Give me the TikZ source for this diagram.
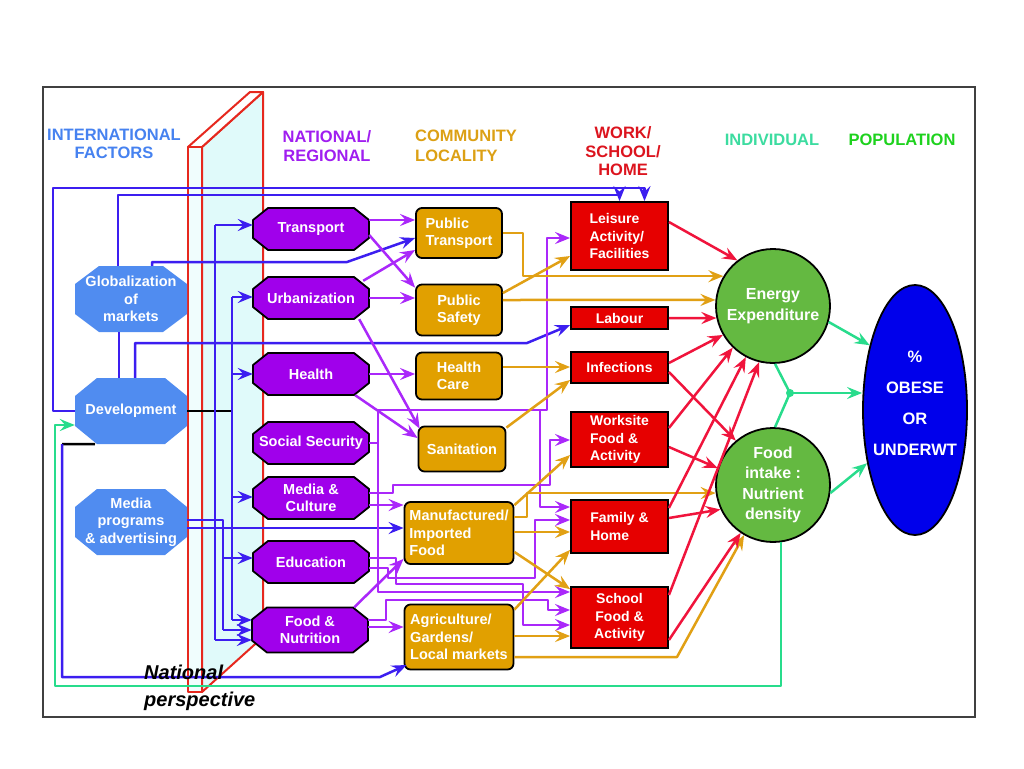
\documentclass[tikz,border=0pt]{standalone}
\usepackage{fontspec}
\setmainfont{Liberation Sans}
\usetikzlibrary{arrows.meta,shapes.geometric}

\definecolor{intlC}{RGB}{80,140,240}
\definecolor{natC}{RGB}{160,0,235}
\definecolor{comC}{RGB}{225,160,0}
\definecolor{workC}{RGB}{230,0,0}
\definecolor{indC}{RGB}{100,185,65}
\definecolor{popC}{RGB}{0,0,235}
\definecolor{blL}{RGB}{60,30,240}
\definecolor{puL}{RGB}{170,40,250}
\definecolor{orL}{RGB}{225,160,20}
\definecolor{rdL}{RGB}{240,20,60}
\definecolor{grL}{RGB}{40,220,140}
\definecolor{wallR}{RGB}{230,40,30}
\definecolor{wallC}{RGB}{224,250,250}
\definecolor{wallF}{RGB}{240,253,253}
\definecolor{hIntl}{RGB}{70,130,240}
\definecolor{hNat}{RGB}{160,30,240}
\definecolor{hCom}{RGB}{220,160,20}
\definecolor{hWork}{RGB}{220,20,30}
\definecolor{hInd}{RGB}{60,220,160}
\definecolor{hPop}{RGB}{30,210,30}

% #1 name, #2 cx, #3 cy, #4 w, #5 h, #6 chamfer x, #7 chamfer y, #8 group, #9 text
\newcommand\octbox[9]{%
  \path[#8] ({#2-#4/2+#6},{#3-#5/2}) -- ({#2+#4/2-#6},{#3-#5/2}) -- ({#2+#4/2},{#3-#5/2+#7})
    -- ({#2+#4/2},{#3+#5/2-#7}) -- ({#2+#4/2-#6},{#3+#5/2}) -- ({#2-#4/2+#6},{#3+#5/2})
    -- ({#2-#4/2},{#3+#5/2-#7}) -- ({#2-#4/2},{#3-#5/2+#7}) -- cycle;
  \node[#8 text, minimum width=#4, minimum height=#5] (#1) at (#2,#3) {#9};
}

\tikzset{
  lbl/.style={font=\fontsize{14.5}{17.5}\selectfont\bfseries, text=white, align=center, inner sep=0pt},
  intl/.style={fill=intlC},
  intl text/.style={lbl, rectangle},
  nat/.style={fill=natC, draw=black, line width=1.8pt, line join=round},
  nat text/.style={lbl, rectangle},
  comm/.style={rectangle, rounded corners=6pt, draw=black, line width=1.8pt, fill=comC, lbl},
  work/.style={rectangle, draw=black, line width=1.8pt, fill=workC, lbl, font=\fontsize{14}{17.5}\selectfont\bfseries},
  ind/.style={circle, draw=black, line width=1.8pt, fill=indC, minimum size=114pt, inner sep=0pt,
    text=white, align=center, font=\fontsize{16}{20.5}\selectfont\bfseries},
  hdr/.style={font=\fontsize{16.5}{18.5}\selectfont\bfseries, inner sep=0pt, align=center},
  arr/.style={-{Stealth[length=15pt,width=12pt,inset=5.5pt]}},
  conn/.style={line width=2.5pt, line join=round},
  cBlue/.style={conn, draw=blL},
  cPurp/.style={conn, draw=puL},
  cOr/.style={conn, draw=orL},
  cRed/.style={conn, draw=rdL},
  cGreen/.style={conn, draw=grL},
  cBlack/.style={conn, draw=black},
  wallline/.style={draw=wallR, line width=2pt, line join=round},
}

\begin{document}
\begin{tikzpicture}[x=1pt,y=-1pt]
\useasboundingbox (0,0) rectangle (1024,768);
\fill[white] (0,0) rectangle (1024,768);
\draw[black!75, line width=1.3pt] (43,87) rectangle (975,717);

% ---- wall
\path[wallline, fill=wallC] (202,147) -- (263,92) -- (263,637) -- (202,692) -- cycle;
\path[wallline, fill=white] (188,147) -- (250,92) -- (263,92) -- (202,147) -- cycle;
\path[wallline, fill=wallF] (188,147) rectangle (202,692);

% ---- headers
\node[hdr, text=hIntl] (hIntlN) at (114,144) {INTERNATIONAL\\FACTORS};
\node[hdr, text=hNat] (hNatN) at (327,146) {NATIONAL/\\REGIONAL};
\node[hdr, text=hCom, align=left, anchor=west, font=\fontsize{16.5}{20}\selectfont\bfseries] (hComN) at (415,146) {COMMUNITY\\LOCALITY};
\node[hdr, text=hWork] (hWorkN) at (623,151.5) {WORK/\\SCHOOL/\\HOME};
\node[hdr, text=hInd] (hIndN) at (772,140) {INDIVIDUAL};
\node[hdr, text=hPop] (hPopN) at (902,140) {POPULATION};

% ---- international
\octbox{glob}{131}{299}{112}{66}{24}{18}{intl}{Globalization\\of\\markets}
\octbox{dev}{131}{411}{112}{66}{22}{18}{intl}{Development}
\octbox{media}{131}{522}{112}{66}{22}{18}{intl}{Media\\programs\\\& advertising}

% ---- national
\octbox{trans}{311}{229}{116}{42}{15}{12}{nat}{Transport}
\octbox{urban}{311}{298}{116}{42}{15}{12}{nat}{Urbanization}
\octbox{health}{311}{374}{116}{42}{15}{12}{nat}{Health}
\octbox{socsec}{311}{443}{116}{42}{15}{12}{nat}{Social Security}
\octbox{mediac}{311}{498}{116}{42}{15}{12}{nat}{Media \&\\Culture}
\octbox{edu}{311}{562}{116}{42}{15}{12}{nat}{Education}
\octbox{food}{310}{630}{116}{45}{15}{12}{nat}{Food \&\\Nutrition}

% ---- community
\node[comm, minimum width=86, minimum height=50, align=left] (pubt) at (459,233) {Public\\Transport};
\node[comm, minimum width=86, minimum height=51] (pubs) at (459,310) {Public\\Safety};
\node[comm, minimum width=86, minimum height=47, align=left] (hcare) at (459,376) {Health\\Care};
\node[comm, minimum width=87, minimum height=45] (sanit) at (462,449) {Sanitation};
\node[comm, minimum width=109, minimum height=62, align=left] (manu) at (459,533) {Manufactured/\\Imported\\Food};
\node[comm, minimum width=109, minimum height=65, align=left] (agri) at (459,637) {Agriculture/\\Gardens/\\Local markets};

% ---- work / school / home
\node[work, minimum width=97, minimum height=68, align=left] (leis) at (619.5,236) {Leisure\\Activity/\\Facilities};
\node[work, minimum width=97, minimum height=22] (labour) at (619.5,318) {Labour};
\node[work, minimum width=97, minimum height=31] (infect) at (619.5,367.5) {Infections};
\node[work, minimum width=97, minimum height=55, align=left] (works) at (619.5,439.5) {Worksite\\Food \&\\Activity};
\node[work, minimum width=97, minimum height=53, align=left] (family) at (619.5,526.5) {Family \&\\Home};
\node[work, minimum width=97, minimum height=61] (school) at (619.5,617.5) {School\\Food \&\\Activity};

% ---- individual / population
\node[ind] (energy) at (773,306) {Energy\\Expenditure};
\node[ind] (fintake) at (773,485) {Food\\intake :\\Nutrient\\density};
\node[ellipse, draw=black, line width=1.8pt, fill=popC, minimum width=104pt, minimum height=250pt, inner sep=0pt] (pop) at (915,410) {};
\node[text=white, align=center, inner sep=0pt, font=\fontsize{16.5}{31}\selectfont\bfseries] (poplbl) at (915,403) {\%\\OBESE\\OR\\UNDERWT};

% ---- blue (international) connectors
\draw[cBlue,arr] (dev.west) -- (53,411) -- (53,188) -| ([xshift=25]leis.north);
\draw[cBlue,arr] ([xshift=-13]glob.north) -- (118,195) -| (leis.north);
\draw[cBlue] ([xshift=-12]glob.south) -- ([xshift=-12]dev.north);
\draw[cBlue,arr] ([xshift=21]glob.north) -- (152,262) -- (347,262) -- (pubt.west |- 0,238);
\draw[cBlue,arr] ([xshift=4]dev.north) -- (135,343) -- (527,343) -- (labour.west |- 0,325);
\coordinate (busA) at (232,411);
\draw[cBlack] (dev.east) -- (busA);
\draw[cBlue] (232,297) -- (232,620);
\draw[cBlue] (215,225) -- (215,640);
\draw[cBlue,arr] (232,297) -- (urban.west |- 0,297);
\draw[cBlue,arr] (232,374) -- (health.west |- 0,374);
\draw[cBlue,arr] (232,497) -- (mediac.west |- 0,497);
\draw[cBlue,arr] (232,620) -- (food.west |- 0,620);
\draw[cBlue,arr] (215,225) -- (trans.west |- 0,225);
\draw[cBlue,arr] (215,640) -- (food.west |- 0,640);
\draw[cBlue] ([yshift=2]media.east) -- (223,520) -- (223,630);
\draw[cBlue,arr] (223,558) -- (edu.west |- 0,558);
\draw[cBlue,arr] (223,630) -- (food.west |- 0,630);
\draw[cBlue,arr] (media.east |- 0,528) -- (manu.west |- 0,528);
\draw[cBlack] ([xshift=-36]dev.south) -- (62,444);
\draw[cBlue,arr] (62,444) -- (62,677) -- (380,677) -- ([xshift=3,yshift=-28]agri.west);

% ---- purple (national) connectors
\draw[cPurp,arr] (trans.east |- 0,220) -- (pubt.west |- 0,220);
\draw[cPurp,arr] (trans.east |- 0,235) -- ([yshift=-4]pubs.north west);
\draw[cPurp,arr] ([xshift=-6,yshift=-4]urban.north east) -- (pubt.west |- 0,250);
\draw[cPurp,arr] (urban.east) -- (pubs.west |- 0,298);
\draw[cPurp,arr] ([xshift=-10]urban.south east) -- ([xshift=2,yshift=-3]sanit.north west);
\draw[cPurp,arr] (health.east) -- (hcare.west |- 0,374);
\draw[cPurp,arr] ([xshift=-14]health.south east) -- (sanit.west |- 0,438);
\draw[cPurp,arr] (socsec.east) -- (378,443) -- (378,410) -- (547,410) |- (leis.west |- 0,238);
\draw[cPurp,arr] (socsec.east) -- (378,443) -- (378,410) -- (540,410) |- (family.west |- 0,507);
\draw[cPurp,arr] (socsec.east) -- (378,443) -- (378,592) -- (school.west |- 0,592);
\draw[cPurp,arr] (mediac.east |- 0,493) -- (393,493) -- (393,485) -- (550,485) |- (works.west |- 0,440);
\draw[cPurp,arr] (mediac.east |- 0,505) -- (manu.west |- 0,505);
\draw[cPurp,arr] (edu.east |- 0,568) -- (388,568) -- (388,578) -- (535,578) |- (family.west |- 0,520);
\draw[cPurp,arr] (edu.east |- 0,558) -- (396,558) -- (396,584) -- (523,584) |- (school.west |- 0,625);
\draw[cPurp,arr] ([xshift=-14]food.north east) -- ([yshift=6]manu.south west);
\draw[cPurp,arr] (food.east |- 0,627) -- (agri.west |- 0,627);
\draw[cPurp,arr] (food.east |- 0,620) -- (386,620) -- (386,600) -- (548,600) |- (school.west |- 0,610);

% ---- orange (community) connectors
\draw[cOr,arr] (pubt.east |- 0,233) -- (523,233) |- (energy.149);
\draw[cOr,arr] (pubs.east |- 0,300) -- (energy.174);
\draw[cOr,arr] (pubs.east |- 0,293) -- (leis.west |- 0,256);
\draw[cOr,arr] (hcare.east |- 0,367) -- (infect.west |- 0,367);
\draw[cOr,arr] ([yshift=-2]sanit.north east) -- (infect.west |- 0,380);
\draw[cOr,arr] ([yshift=-4]manu.north east) -- (works.west |- 0,455);
\draw[cOr,arr] (manu.east |- 0,517) -- (527,517) |- (fintake.188);
\draw[cOr,arr] (manu.east |- 0,532) -- (family.west |- 0,532);
\draw[cOr,arr] (manu.east |- 0,552) -- ([yshift=-3]school.north west);
\draw[cOr,arr] ([yshift=-6]agri.north east) -- ([yshift=4]family.south west);
\draw[cOr,arr] (agri.east |- 0,636) -- (school.west |- 0,636);
\draw[cOr,arr] (agri.east |- 0,657) -- (677,657) -- (fintake.240);

% ---- red (setting) connectors
\draw[cRed,arr] (leis.east |- 0,222) -- (energy.128);
\draw[cRed,arr] (labour.east) -- (energy.192);
\draw[cRed,arr] (infect.east |- 0,363) -- (energy.210);
\draw[cRed,arr] (infect.east |- 0,372) -- (fintake.130);
\draw[cRed,arr] (works.east |- 0,428) -- (energy.226);
\draw[cRed,arr] (works.east |- 0,447) -- (fintake.163);
\draw[cRed,arr] (family.east |- 0,508) -- (energy.242);
\draw[cRed,arr] (family.east |- 0,518) -- (fintake.205);
\draw[cRed,arr] (school.east |- 0,595) -- (energy.256);
\draw[cRed,arr] (school.east |- 0,640) -- (fintake.236);

% ---- green (individual -> population) connectors
\coordinate (J) at (790,393);
\draw[cGreen,arr] (energy.-16) -- (pop.125);
\draw[cGreen] (energy.272) -- (J) -- (fintake.88);
\draw[cGreen,arr] (J) -- (pop.west |- J);
\fill[grL] (J) circle[radius=4pt];
\draw[cGreen,arr] (fintake.-8) -- (pop.228);
\draw[cGreen,arr] (fintake.278) -- (fintake.278 |- 0,686) -- (55,686) -- (55,425) -- (dev.west |- 0,425);

% ---- label
\node[anchor=west, align=left, inner sep=0pt, font=\fontsize{20}{27}\selectfont\bfseries\itshape] (natpersp) at (144,688) {National\\perspective};
\end{tikzpicture}
\end{document}
